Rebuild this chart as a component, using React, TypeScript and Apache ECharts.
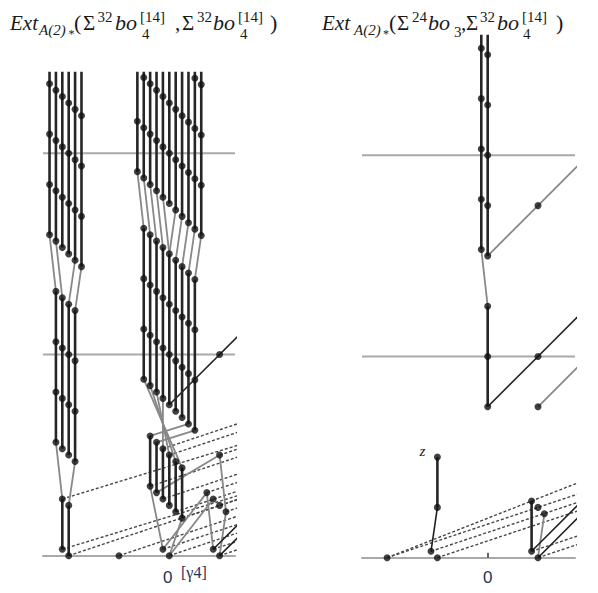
import React, { useEffect, useRef } from "react";
import * as echarts from "echarts";

// Diagonal offset used to separate several classes in the same bidegree (stem / filtration units)
const SLOT = 0.127;

// ---------- LEFT CHART: Ext(Σ^32 bo4[14], Σ^32 bo4[14]) ----------
// towers: [stem, slot, bottom filtration, top filtration]
const leftTowers: number[][] = [
  [-2, -3, 6, 12], [-2, -2, 6, 12], [-2, -1, 6, 12], [-2, 0, 6, 12], [-2, 1, 6, 12], [-2, 2, 6, 12],
  [-2, -2, 2, 5], [-2, -1, 2, 5], [-2, 0, 2, 5], [-2, 1, 2, 5],
  [-2, -1, 0, 1], [-2, 0, 0, 1],
  [0, -5, 7, 12], [0, -4, 7, 12], [0, -3, 7, 12], [0, -2, 7, 12], [0, -1, 7, 12], [0, 0, 7, 12],
  [0, 1, 7, 12], [0, 2, 7, 12], [0, 3, 7, 12], [0, 4, 7, 12], [0, 5, 7, 12],
  [0, -4, 3, 6], [0, -3, 3, 6], [0, -2, 3, 6], [0, -1, 3, 6], [0, 0, 3, 6],
  [0, 1, 3, 6], [0, 2, 3, 6], [0, 3, 3, 6], [0, 4, 3, 6],
  [0, -3, 1, 2], [0, -2, 1, 2], [0, -1, 1, 2], [0, 0, 1, 2], [0, 1, 1, 2], [0, 2, 1, 2],
];
// isolated classes: [stem, filtration, slot]
const leftDots: number[][] = [
  [-1, 0, 0], [0, 0, -1], [0, 0, 0], [1, 4, 0], [1, 2, 0],
  [1, 1, -2], [1, 1, -1], [1, 1, 0], [1, 1, 1], [1, 0, -1], [1, 0, 0],
];
// segments: [stem1, filt1, slot1, stem2, filt2, slot2]
const leftGray: number[][] = [
  [-2, 6, -3, -2, 5, -2], [-2, 6, -2, -2, 5, -1], [-2, 6, 1, -2, 5, 0], [-2, 6, 2, -2, 5, 1],
  [-2, 2, -2, -2, 1, -1], [-2, 2, 1, -2, 1, 0],
  [0, 7, -5, 0, 6, -4], [0, 7, -4, 0, 6, -3], [0, 7, -3, 0, 6, -2], [0, 7, -2, 0, 6, -1], [0, 7, -1, 0, 6, 0],
  [0, 7, 1, 0, 6, 0], [0, 7, 2, 0, 6, 1], [0, 7, 3, 0, 6, 2], [0, 7, 4, 0, 6, 3], [0, 7, 5, 0, 6, 4],
  [0, 3, -4, 0, 2, 2], [0, 3, -3, 0, 2, 1], [0, 3, -2, 0, 2, 0], [0, 3, -1, 0, 2, -1],
  [0, 3, 3, 0, 2, -3], [0, 3, 4, 0, 2, -2],
  [0, 1, -3, 0, 0, -1], [0, 1, 2, 0, 0, 0],
  [1, 2, 0, 1, 1, 1], [1, 1, -2, 1, 0, -1], [1, 1, 1, 1, 0, 0],
  [0, 0, -1, 1, 1, -2], [0, 0, 0, 1, 1, -1], [0, 1, -2, 1, 2, 0],
];
const leftBlack: number[][] = [
  [0, 3, 0, 1, 4, 0], [1, 4, 0, 2, 5, 0], [1, 0, -1, 2, 1, -1], [1, 0, 0, 2, 1, 0],
];
const leftDashed: number[][] = [
  [-2, 1, -1, 4, 3, 0], [-2, 0, -1, 4, 2, 0], [-2, 0, 0, 4, 2, 0], [-1, 0, 0, 5, 2, 0],
  [0, 2, -1, 6, 4, -1], [0, 2, 0, 6, 4, 0],
  [0, 1, -3, 6, 3, -3], [0, 1, -1, 6, 3, -1], [0, 1, 1, 6, 3, 1], [0, 1, 2, 6, 3, 2],
  [0, 0, -1, 6, 2, -1], [0, 0, 0, 6, 2, 0],
  [1, 2, 0, 7, 4, 0], [1, 1, -2, 7, 3, -2], [1, 1, 1, 7, 3, 1], [1, 0, -1, 7, 2, -1], [1, 0, 0, 7, 2, 0],
];

// ---------- RIGHT CHART: Ext(Σ^24 bo3, Σ^32 bo4[14]) ----------
const rightTowers: number[][] = [
  [0, -1, 6, 12], [0, 0, 6, 12], [0, 0, 3, 5], [-1, 0, 1, 2], [1, -1, 0, 1],
];
const rightDots: number[][] = [
  [-2, 0, 0], [-1, 0, -1], [-1, 0, 0], [1, 7, 0], [1, 4, 0], [1, 3, 0], [1, 1, 0], [1, 1, 1], [1, 0, 0],
];
const rightGray: number[][] = [
  [0, 6, -1, 0, 5, 0], [1, 1, 1, 1, 0, 0], [0, 6, 0, 1, 7, 0], [1, 7, 0, 2, 8, 0], [1, 3, 0, 2, 4, 0],
];
const rightBlack: number[][] = [
  [0, 3, 0, 1, 4, 0], [1, 4, 0, 2, 5, 0], [-1, 1, 0, -1, 0, -1], [1, 0, -1, 2, 1, -1], [1, 0, 0, 2, 1, 0],
];
const rightDashed: number[][] = [
  [-2, 0, 0, 4, 2, -2], [-2, 0, 0, 4, 2, 0], [-1, 0, -1, 5, 2, -1], [-1, 0, 0, 5, 2, 0],
  [1, 0, -1, 7, 2, -1], [1, 0, 0, 7, 2, 0],
];

// horizontal reference levels and x tick values
const levels = [4, 8];
const xTicks = [0];

// axis windows (stem / filtration)
const LEFT_X = [-2.511, 1.306];
const LEFT_Y = [-0.742, 9.596];
const RIGHT_X = [-2.499, 1.736];
const RIGHT_Y = [-0.702, 10.372];

const P = (s: number, n: number, slot: number) => [s + slot * SLOT, n - slot * SLOT];

const TOWER = { color: "#262626", width: 2.6 };
const BLACK = { color: "#202020", width: 1.6 };
const GRAY = { color: "#888888", width: 1.8 };
const DASH = { color: "#474747", width: 1.4, type: [3, 2] as any };
const LEVEL = { color: "#a9a9a9", width: 2 };

function seg(a: number[], g: number, style: any, z: number) {
  return {
    type: "line",
    xAxisIndex: g,
    yAxisIndex: g,
    data: [P(a[0], a[1], a[2]), P(a[3], a[4], a[5])],
    symbol: "none",
    showSymbol: false,
    silent: true,
    clip: true,
    lineStyle: style,
    z,
    animation: false,
  };
}

function panelSeries(
  g: number,
  towers: number[][],
  dots: number[][],
  gray: number[][],
  black: number[][],
  dashed: number[][],
  xr: number[]
) {
  const out: any[] = [];
  levels.forEach((lv) =>
    out.push({
      type: "line", xAxisIndex: g, yAxisIndex: g, data: [[xr[0], lv], [xr[1], lv]],
      symbol: "none", silent: true, lineStyle: LEVEL, z: 1, animation: false,
    })
  );
  dashed.forEach((d) => out.push(seg(d, g, DASH, 2)));
  gray.forEach((d) => out.push(seg(d, g, GRAY, 3)));
  black.forEach((d) => out.push(seg(d, g, BLACK, 4)));
  const pts: number[][] = [];
  towers.forEach((t) => {
    out.push(seg([t[0], t[2], t[1], t[0], t[3], t[1]], g, TOWER, 4));
    for (let n = t[2]; n <= Math.min(t[3], 11); n++) pts.push(P(t[0], n, t[1]));
  });
  dots.forEach((d) => pts.push(P(d[0], d[1], d[2])));
  out.push({
    type: "scatter", xAxisIndex: g, yAxisIndex: g, data: pts, symbol: "circle",
    symbolSize: 7, itemStyle: { color: "#111" }, silent: true, clip: true, z: 5, animation: false,
  });
  return out;
}

const serif = (size: number, italic: boolean) =>
  `${italic ? "italic " : ""}${size}px "Liberation Serif", "DejaVu Serif", serif`;

function txt(
  x: number, base: number, text: string, size: number, italic = false,
  color = "#1a1a1a", align = "left", family?: string
) {
  return {
    type: "text",
    x,
    y: base - 0.34 * size,
    silent: true,
    z: 10,
    style: {
      text,
      font: family ? `${size}px ${family}` : serif(size, italic),
      fill: color,
      textAlign: align,
      textVerticalAlign: "middle",
      verticalAlign: "middle",
    },
  };
}

function titleParts(o: number, right: boolean) {
  if (!right) {
    return [
      txt(o + 0, 30, "Ext", 21, true), txt(o + 29, 35.5, "A(2)", 15, true), txt(o + 58.5, 38, "*", 12),
      txt(o + 64, 30, "(", 22), txt(o + 73, 30, "Σ", 21), txt(o + 87.5, 22.5, "32", 15),
      txt(o + 105, 30, "bo", 22, true), txt(o + 130, 22, "[14]", 15), txt(o + 132, 39.5, "4", 15),
      txt(o + 165, 30, ",", 21), txt(o + 172, 30, "Σ", 21), txt(o + 187, 22.5, "32", 15),
      txt(o + 203, 30, "bo", 22, true), txt(o + 228, 22, "[14]", 15), txt(o + 230, 39.5, "4", 15),
      txt(o + 260, 30, ")", 22),
    ];
  }
  return [
    txt(o + 0, 30, "Ext", 21, true), txt(o + 32, 35.5, "A(2)", 15, true), txt(o + 61, 38, "*", 12),
    txt(o + 67, 30, "(", 22), txt(o + 75, 30, "Σ", 21), txt(o + 90, 22.5, "24", 15),
    txt(o + 106, 30, "bo", 22, true), txt(o + 132, 37.5, "3", 15), txt(o + 139, 30, ",", 21),
    txt(o + 144, 30, "Σ", 21), txt(o + 158, 22.5, "32", 15), txt(o + 175, 30, "bo", 22, true),
    txt(o + 200, 22, "[14]", 15), txt(o + 201, 39.5, "4", 15), txt(o + 234, 30, ")", 22),
  ];
}

function xAxisCfg(g: number, r: number[], tick: boolean) {
  return {
    type: "value",
    gridIndex: g,
    min: r[0],
    max: r[1],
    axisLine: { show: true, onZero: true, lineStyle: { color: "#a9a9a9", width: 2 } },
    axisTick: {
      show: tick, customValues: xTicks, inside: true, length: 5,
      lineStyle: { color: "#333", width: 1.5 },
    },
    axisLabel: { show: false },
    splitLine: { show: false },
  };
}

const SANS = '"Liberation Sans", Arial, sans-serif';

export default function App() {
  const ref = useRef<HTMLDivElement>(null);
  useEffect(() => {
    if (!ref.current) return;
    const chart = echarts.init(ref.current, undefined, { renderer: "svg" });
    const option: any = {
      animation: false,
      backgroundColor: "#ffffff",
      grid: [
        { left: 43, top: 73, width: 192, height: 520, outerBoundsMode: "none" },
        { left: 362, top: 36, width: 213, height: 557, outerBoundsMode: "none" },
      ],
      xAxis: [xAxisCfg(0, LEFT_X, false), xAxisCfg(1, RIGHT_X, true)],
      yAxis: [
        { type: "value", gridIndex: 0, min: LEFT_Y[0], max: LEFT_Y[1], show: false },
        { type: "value", gridIndex: 1, min: RIGHT_Y[0], max: RIGHT_Y[1], show: false },
      ],
      series: [
        ...panelSeries(0, leftTowers, leftDots, leftGray, leftBlack, leftDashed, LEFT_X),
        ...panelSeries(1, rightTowers, rightDots, rightGray, rightBlack, rightDashed, RIGHT_X),
      ],
      graphic: [
        ...titleParts(10, false),
        ...titleParts(322, true),
        txt(419.5, 456.5, "z", 15, true),
        txt(181, 578, "[γ4]", 16, false, "#1f3354"),
        txt(167.7, 583, String(xTicks[0]), 17, false, "#1f3354", "center", SANS),
        txt(487.7, 583, String(xTicks[0]), 17, false, "#1f3354", "center", SANS),
      ],
    };
    chart.setOption(option);
    return () => chart.dispose();
  }, []);
  return (
    <div
      ref={ref}
      style={{ position: "fixed", left: 0, top: 0, width: 598, height: 593, background: "#fff" }}
    />
  );
}
